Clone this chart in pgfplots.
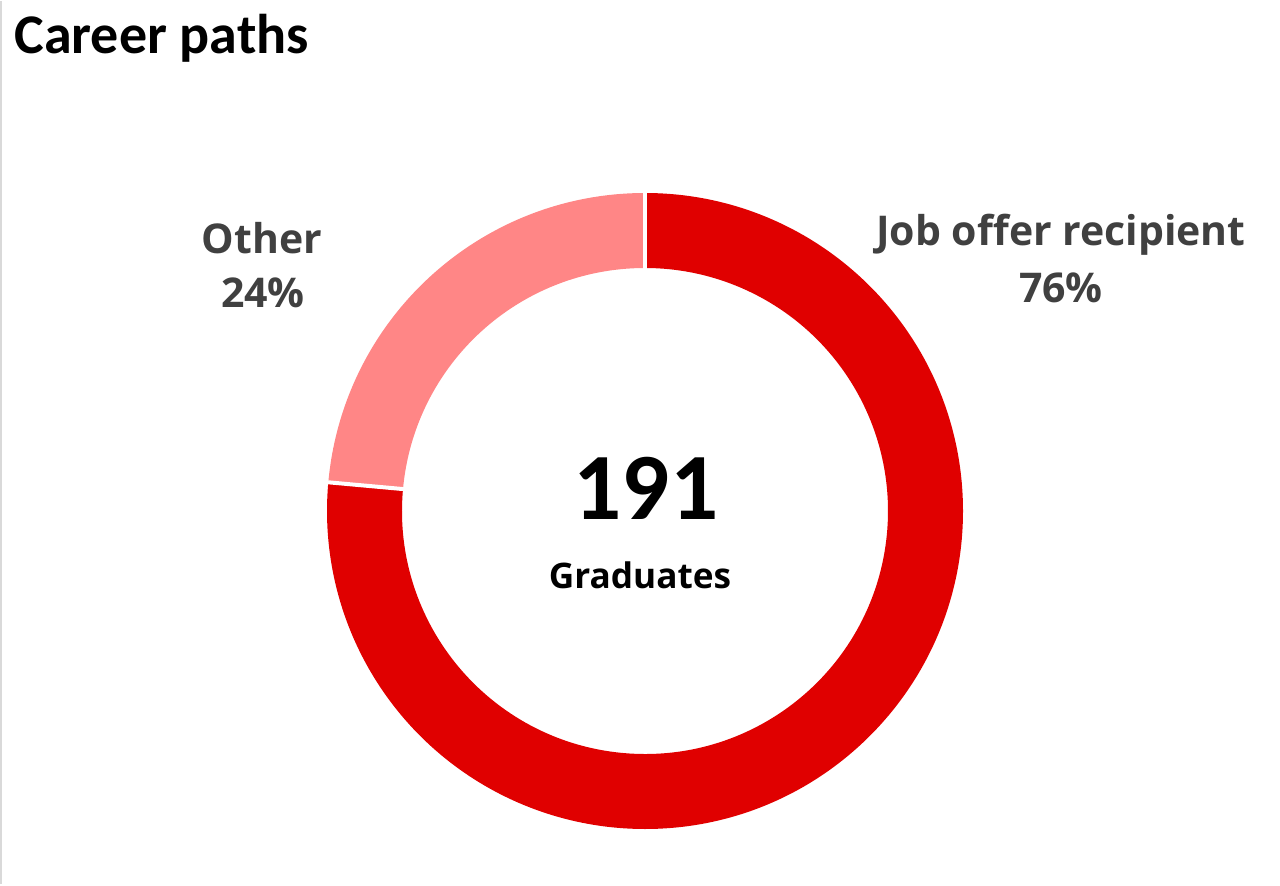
\documentclass[border=0pt]{standalone}
\usepackage{pgfplots}
\pgfplotsset{compat=1.18}
\usepackage{pgfplotstable}
\usepackage{fontspec}
\setmainfont{Carlito}
\newfontfamily\lblfont{Open Sans}
\definecolor{jobred}{RGB}{224,0,0}
\definecolor{otherpink}{RGB}{255,134,134}
\definecolor{lblgray}{RGB}{64,64,64}
\definecolor{edgegray}{RGB}{217,217,217}
\pgfplotstableread{
category value
Job 146
Other 45
}\careerdata
\begin{document}
\begin{tikzpicture}
\pgfplotstablegetelem{0}{value}\of\careerdata \let\vjob\pgfplotsretval
\pgfplotstablegetelem{1}{value}\of\careerdata \let\vother\pgfplotsretval
\pgfmathsetmacro\total{\vjob+\vother}
\pgfmathsetmacro\frac{\vjob/\total}
\pgfmathsetmacro\ajob{90-360*\frac}
\begin{axis}[at={(0,0)}, anchor=south west, scale only axis, width=640pt, height=441.5pt,
  xmin=0, xmax=1280, ymin=0, ymax=883, hide axis, clip=false]
\path (axis cs:0,0) (axis cs:1280,883);
\draw[edgegray, line width=1pt] (axis cs:1,0) -- (axis cs:1,883);
\coordinate (c) at (axis cs:645,373);
% Job offer segment (clockwise from top)
\fill[jobred] ([shift={(90:159pt)}]c) arc[start angle=90, end angle=\ajob, radius=159pt]
  -- ([shift={(\ajob:121.5pt)}]c) arc[start angle=\ajob, end angle=90, radius=121.5pt] -- cycle;
% Other segment
\fill[otherpink] ([shift={(\ajob:159pt)}]c) arc[start angle=\ajob, end angle=-270, radius=159pt]
  -- ([shift={(90:121.5pt)}]c) arc[start angle=-270, end angle=\ajob, radius=121.5pt] -- cycle;
% separators
\draw[white, line width=2pt] ([shift={(90:120pt)}]c) -- ([shift={(90:161pt)}]c);
\draw[white, line width=2pt] ([shift={(\ajob:120pt)}]c) -- ([shift={(\ajob:161pt)}]c);
% texts
\node[anchor=base west, inner sep=0pt, font=\fontsize{28}{32}\selectfont\bfseries] at (axis cs:14,830) {Career paths};
\node[anchor=base, inner sep=0pt, font=\fontsize{47.5}{56}\selectfont\bfseries] at (axis cs:646,365) {191};
\node[anchor=base, inner sep=0pt, font=\lblfont\fontsize{17.6}{22}\selectfont\bfseries] at (axis cs:640,296) {Graduates};
\node[anchor=base, inner sep=0pt, text=lblgray, font=\lblfont\fontsize{20.5}{27}\selectfont\bfseries] at (axis cs:1061,638) {Job offer recipient};
\node[anchor=base, inner sep=0pt, text=lblgray, font=\lblfont\fontsize{20.5}{27}\selectfont\bfseries] at (axis cs:1061,581) {76\%};
\node[anchor=base, inner sep=0pt, text=lblgray, font=\lblfont\fontsize{20.5}{27}\selectfont\bfseries] at (axis cs:262,630) {Other};
\node[anchor=base, inner sep=0pt, text=lblgray, font=\lblfont\fontsize{20.5}{27}\selectfont\bfseries] at (axis cs:263,576) {24\%};
\end{axis}
\end{tikzpicture}
\end{document}
